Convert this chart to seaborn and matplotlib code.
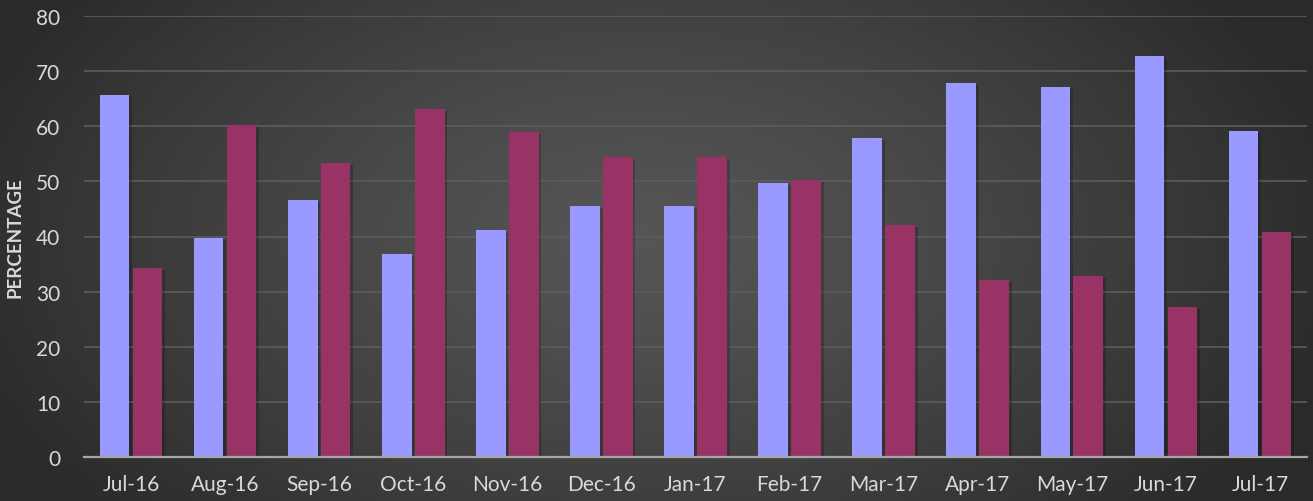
import numpy as np
import pandas as pd
import matplotlib
matplotlib.use("Agg")
import matplotlib.pyplot as plt
import matplotlib.patheffects as pe
import seaborn as sns

months = ["Jul-16", "Aug-16", "Sep-16", "Oct-16", "Nov-16", "Dec-16", "Jan-17",
          "Feb-17", "Mar-17", "Apr-17", "May-17", "Jun-17", "Jul-17"]
series_a = [65.7, 39.8, 46.7, 36.9, 41.1, 45.5, 45.6, 49.7, 57.9, 67.9, 67.2, 72.8, 59.1]
series_b = [34.3, 60.2, 53.3, 63.1, 58.9, 54.5, 54.4, 50.3, 42.1, 32.1, 32.8, 27.2, 40.9]
series_names = ["A", "B"]
colors = ["#9999FF", "#993366"]

df = pd.DataFrame({
    "month": months * 2,
    "value": series_a + series_b,
    "series": [series_names[0]] * len(months) + [series_names[1]] * len(months),
})

sns.set_theme(style="dark")
plt.rcParams["font.family"] = ["Lato", "DejaVu Sans"]

W, H = 1313, 502
fig = plt.figure(figsize=(W / 100, H / 100), dpi=100)

# radial gradient background
bg = fig.add_axes([0, 0, 1, 1], zorder=-10)
yy, xx = np.mgrid[0:H, 0:W]
cx, cy = 640, 240
r = np.sqrt(((xx - cx) / 720.0) ** 2 + ((yy - cy) / 420.0) ** 2)
r = np.clip(r, 0, 1)
shade = 0.335 - 0.17 * r ** 1.3
img = np.dstack([shade, shade, shade])
bg.imshow(img, aspect="auto", extent=[0, W, H, 0])
bg.axis("off")

ax = fig.add_axes([84 / W, (H - 458) / H, (1307 - 84) / W, (458 - 17) / H])
ax.set_facecolor("none")

sns.barplot(data=df, x="month", y="value", hue="series", palette=colors,
            width=0.7, gap=0.1, saturation=1, linewidth=0,
            ax=ax, legend=False, zorder=3)

# soft drop shadow like the office chart
for patch in ax.patches:
    patch.set_path_effects([pe.SimplePatchShadow(offset=(2, -1.5), shadow_rgbFace="black", alpha=0.2),
                            pe.Normal()])

ax.set_ylim(0, 80)
ax.set_xlim(-0.5, len(months) - 0.5)
ax.set_yticks(range(0, 81, 10))
ax.yaxis.grid(True, color="#5c5c5c", linewidth=1.2, zorder=0)
ax.xaxis.grid(False)
ax.set_axisbelow(True)

for s in ["top", "right", "left"]:
    ax.spines[s].set_visible(False)
ax.spines["bottom"].set_color("#a6a6a6")
ax.spines["bottom"].set_linewidth(1.6)
ax.spines["bottom"].set_zorder(5)

ax.set_xticks(np.arange(-0.5, len(months), 1), minor=True)
ax.tick_params(axis="x", which="minor", length=6, width=1.4, color="#a6a6a6", direction="out")
ax.tick_params(axis="x", which="major", length=0, pad=12, labelsize=15, labelcolor="#d9d9d9")
ax.tick_params(axis="y", length=0, pad=17, labelsize=15, labelcolor="#d9d9d9")

ax.set_xlabel("")
ax.set_ylabel("PERCENTAGE", fontsize=13.5, fontweight="bold", color="#d9d9d9", labelpad=9)

fig.savefig("out.png", dpi=100)
